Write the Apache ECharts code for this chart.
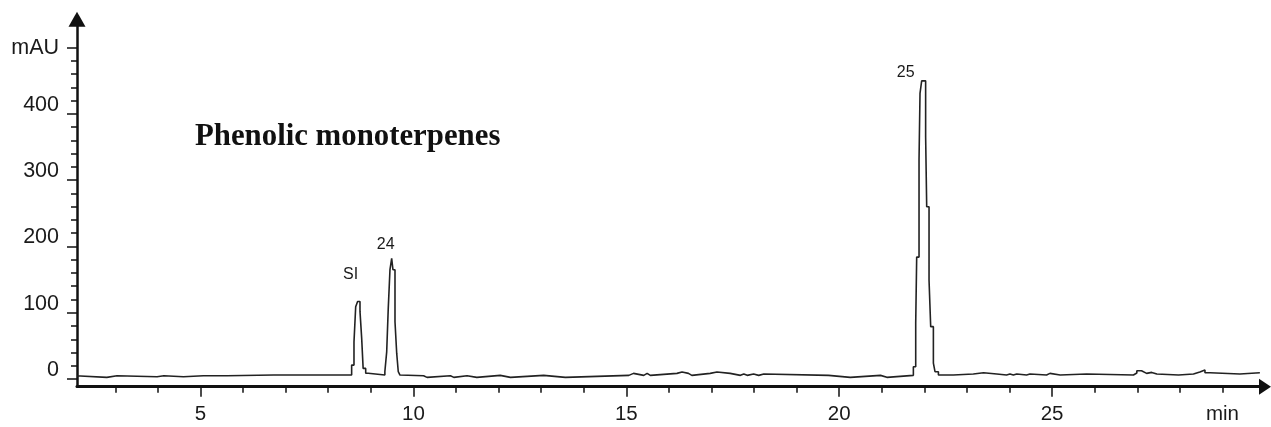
<!DOCTYPE html>
<html><head><meta charset="utf-8">
<script src="https://cdn.jsdelivr.net/npm/echarts@6/dist/echarts.min.js"></script>
<style>html,body{margin:0;padding:0;background:#fff}#c{width:1271px;height:427px}</style>
</head><body><div id="c"></div>
<script>
// Retention time (min) — each value holds until the next time (stepped trace)
const times = [2.10,2.18,2.80,3.04,3.98,4.14,4.60,5.07,5.11,5.62,5.66,6.72,6.76,
  8.55,8.605,8.645,8.69,8.746,8.786,8.82,8.88,8.94,
  9.33,9.373,9.41,9.45,9.49,9.52,9.568,9.608,9.645,9.685,9.72,
  10.24,10.32,10.87,10.95,11.26,11.49,12.04,12.28,13.06,13.57,
  15.06,15.17,15.41,15.49,15.565,16.19,16.31,16.46,16.54,16.97,17.13,17.44,17.68,17.76,17.84,17.99,18.11,18.23,
  19.75,20.26,20.97,21.12,
  21.742,21.797,21.82,21.875,21.898,21.937,22.03,22.055,22.11,22.149,22.212,22.25,22.33,
  22.68,23.15,23.39,23.70,23.93,24.01,24.09,24.17,24.40,24.48,24.87,24.95,25.19,25.81,
  26.91,26.99,27.10,27.14,27.22,27.34,27.46,27.97,28.32,28.47,28.59,28.71,29.41,29.88];
// Absorbance (mAU)
const values = [4.5,2.5,5,3.5,5,3.5,5,2.5,5,3.5,6,3.5,6,
  21,56,109,117,102,61,16,8.6,6,
  11,41,107,165,182,165,86.5,39,11,6,5,
  2.5,5,2.5,5,2.5,5.5,2.5,5.5,2.5,5.5,
  8.5,5.5,8.5,5.5,8.5,10.5,8.5,5.5,8.5,10.5,8.5,5.5,7.5,5.5,7.5,5.5,7.5,5.5,
  2.5,5.5,2.5,5.5,
  18.6,84,184,331,431,450,366,260,149,79,24,11,6,
  7.5,9.5,7.5,6,7.5,6,7.5,6,7.5,6,8.5,6,7.5,6,
  9,12.5,9.5,8.5,10,7.5,6,7.5,10.5,13.5,9.5,7.5,9.5,9.5];

// Peak annotations
const peakNames = ['SI','24','25'];
const peakTimes = [8.69, 9.49, 21.937];
const peakValues = [117, 182, 450];

// Axis ticks and labels
const xMajorTicks = [5,10,15,20,25];
const xMinorTicks = [3,4,6,7,8,9,11,12,13,14,16,17,18,19,21,22,23,24,26,27,28,29];
const xLabelValues = [5,10,15,20,25,29];
const xLabelTexts = ['5','10','15','20','25','min'];
const yMajorTicks = [0,100,200,300,400,500];
const yMinorTicks = [20,40,60,80,120,140,160,180,220,240,260,280,320,340,360,380,420,440,460,480];
const yLabelValues = [0,100,200,300,400];
const yUnitValue = 500;
const yUnitLabel = 'mAU';
const titleText = 'Phenolic monoterpenes';

const X_MIN = 2.1, X_MAX = 30, Y_MIN = -11.6, Y_MAX = 543;
const ink = '#1a1a1a';

const chart = echarts.init(document.getElementById('c'), null, {renderer:'canvas'});
const data = times.map((t,i)=>[t, values[i]]);
const labelOffsets = [[-7,-27],[-6,-14],[-16,-8]];

chart.setOption({
  backgroundColor:'#fff',
  animation:false,
  title:{text:titleText,left:195,top:122,padding:0,
    textStyle:{fontFamily:'Liberation Serif',fontWeight:'bold',fontSize:30.8,color:'#111'}},
  grid:{left:77,top:19.2,width:1188,bottom:40.3,containLabel:false},
  xAxis:[{
    type:'value',min:X_MIN,max:X_MAX,position:'bottom',
    axisLine:{show:true,onZero:false,symbol:['none','triangle'],symbolSize:[16,12],
      lineStyle:{color:'#111',width:3}},
    axisTick:{show:true,customValues:xMajorTicks,length:10,lineStyle:{color:'#111',width:1.5}},
    axisLabel:{show:true,customValues:xLabelValues,margin:17,fontSize:20.5,
      fontFamily:'Liberation Sans',color:ink,
      formatter:(v)=>{const i=xLabelValues.indexOf(Math.round(v*100)/100);return i>=0?xLabelTexts[i]:'';}},
    splitLine:{show:false}
  },{
    type:'value',min:X_MIN,max:X_MAX,position:'bottom',
    axisLine:{show:false,onZero:false},
    axisTick:{show:true,customValues:xMinorTicks,length:6,lineStyle:{color:'#111',width:1.5}},
    axisLabel:{show:false},splitLine:{show:false}
  }],
  yAxis:[{
    type:'value',min:Y_MIN,max:Y_MAX,position:'left',
    axisLine:{show:true,onZero:false,symbol:['none','triangle'],symbolSize:[17,15],
      lineStyle:{color:'#111',width:2.5}},
    axisTick:{show:true,customValues:yMajorTicks,length:10,lineStyle:{color:'#111',width:1.5}},
    axisLabel:{show:true,customValues:yLabelValues,margin:18,fontSize:21.5,lineHeight:18,verticalAlign:'bottom',
      fontFamily:'Liberation Sans',color:ink},
    splitLine:{show:false}
  },{
    type:'value',min:Y_MIN,max:Y_MAX,position:'left',
    axisLine:{show:false,onZero:false},
    axisTick:{show:true,customValues:yMinorTicks,length:6,lineStyle:{color:'#111',width:1.5}},
    axisLabel:{show:true,customValues:[yUnitValue],margin:18,fontSize:21.5,verticalAlign:'middle',
      fontFamily:'Liberation Sans',color:ink,formatter:()=>yUnitLabel},
    splitLine:{show:false}
  }],
  series:[{
    type:'line',xAxisIndex:0,yAxisIndex:0,step:'end',showSymbol:false,
    data:data,
    lineStyle:{color:'#222',width:1.6},
    markPoint:{
      symbol:'circle',symbolSize:0,silent:true,
      label:{show:true,position:'inside',fontSize:16,fontFamily:'Liberation Sans',color:ink,formatter:'{b}'},
      data:peakNames.map((n,i)=>({name:n,coord:[peakTimes[i],peakValues[i]],
        label:{offset:labelOffsets[i]}}))
    }
  }]
});
</script></body></html>
